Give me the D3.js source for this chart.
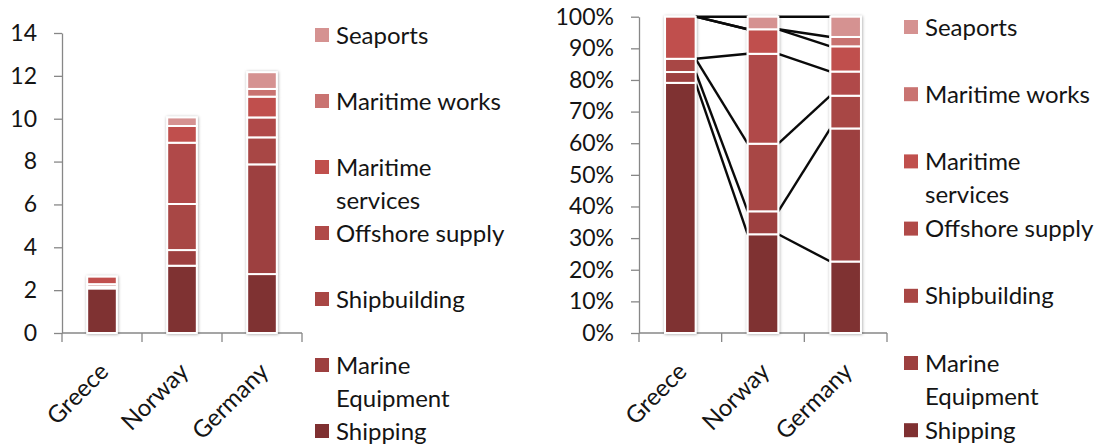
<!DOCTYPE html>
<html>
<head>
<meta charset="utf-8">
<script src="https://cdn.jsdelivr.net/npm/d3@7"></script>
<style>
  body { margin: 0; background: #fff; }
  svg text { font-family: Lato, "Open Sans", sans-serif; fill: #141414; }
</style>
</head>
<body>
<svg id="chart" width="1098" height="446"></svg>
<script>
// Maritime cluster size by sector (absolute values) for three countries
const countries = ["Greece", "Norway", "Germany"];
const sectors = ["Shipping", "Marine Equipment", "Shipbuilding", "Offshore supply",
                 "Maritime services", "Maritime works", "Seaports"];
const shipping         = [2.08, 3.14, 2.75];
const marineEquipment  = [0.09, 0.73, 5.12];
const shipbuilding     = [0.11, 2.15, 1.26];
const offshoreSupply   = [0.00, 2.86, 0.93];
const maritimeServices = [0.35, 0.78, 0.97];
const maritimeWorks    = [0.00, 0.00, 0.36];
const seaports         = [0.00, 0.40, 0.78];
const sectorColors = ["#7f3031", "#9d403f", "#a84644", "#b04a48", "#c0504d", "#c97371", "#d59291"];
const absTicks = [0, 2, 4, 6, 8, 10, 12, 14];
const pctTicks = [0, 0.1, 0.2, 0.3, 0.4, 0.5, 0.6, 0.7, 0.8, 0.9, 1.0];

const seriesValues = [shipping, marineEquipment, shipbuilding, offshoreSupply,
                      maritimeServices, maritimeWorks, seaports];
const rows = countries.map((c, i) => {
  const r = { country: c };
  sectors.forEach((s, k) => { r[s] = seriesValues[k][i]; });
  return r;
});
const color = d3.scaleOrdinal().domain(sectors).range(sectorColors);
const stackAbs = d3.stack().keys(sectors)(rows);
const stackPct = d3.stack().keys(sectors).offset(d3.stackOffsetExpand)(rows);

const svg = d3.select("#chart");
svg.append("rect").attr("width", 1098).attr("height", 446).attr("fill", "#fff");

svg.append("defs").append("filter")
  .attr("id", "barShadow")
  .attr("x", "-40%").attr("y", "-10%").attr("width", "180%").attr("height", "120%")
  .html('<feDropShadow dx="0.5" dy="0.5" stdDeviation="1.8" flood-color="#000" flood-opacity="0.35"/>');

const axisColor = "#878787";

function drawPanel(o) {
  const g = svg.append("g");
  const x = d3.scaleBand().domain(countries).range([o.x0, o.x1])
    .paddingInner(0.63).paddingOuter(0.315);
  const y = d3.scaleLinear().domain(o.domain).range([o.yBottom, o.yTop]);
  const bw = x.bandwidth();

  // value axis
  const yAxis = g.append("g")
    .attr("transform", `translate(${o.x0},0)`)
    .call(d3.axisLeft(y).tickValues(o.ticks).tickFormat(o.format)
      .tickSize(8).tickSizeOuter(0).tickPadding(17));
  yAxis.select(".domain").attr("stroke", axisColor).attr("stroke-width", 1.3);
  yAxis.selectAll(".tick line").attr("stroke", axisColor).attr("stroke-width", 1.3);
  yAxis.selectAll(".tick text").attr("font-size", 23).attr("fill", "#141414");

  // category axis with ticks at band boundaries
  const bounds = d3.range(countries.length + 1).map(i => o.x0 + i * x.step());
  g.append("line").attr("x1", o.x0).attr("x2", bounds[bounds.length - 1])
    .attr("y1", o.yBottom).attr("y2", o.yBottom)
    .attr("stroke", axisColor).attr("stroke-width", 1.3);
  g.selectAll(".xtick").data(bounds).join("line")
    .attr("x1", d => d).attr("x2", d => d)
    .attr("y1", o.yBottom).attr("y2", o.yBottom + 9)
    .attr("stroke", axisColor).attr("stroke-width", 1.3);

  g.selectAll(".xlabel").data(countries).join("text")
    .attr("transform", d => `translate(${x(d) + bw / 2 + 8},${o.yBottom + 40}) rotate(-45)`)
    .attr("text-anchor", "end")
    .attr("font-size", 24)
    .text(d => d);

  // series lines linking segment tops between neighbouring columns
  if (o.seriesLines) {
    const links = [];
    o.stack.forEach(layer => {
      for (let i = 0; i < countries.length - 1; i++) {
        links.push({
          x1: x(countries[i]) + bw, y1: y(layer[i][1]),
          x2: x(countries[i + 1]), y2: y(layer[i + 1][1])
        });
      }
    });
    g.selectAll(".slink").data(links).join("line")
      .attr("x1", d => d.x1).attr("y1", d => d.y1)
      .attr("x2", d => d.x2).attr("y2", d => d.y2)
      .attr("stroke", "#0a0a0a").attr("stroke-width", 2.4);
  }

  // stacked columns, one shadowed group per country
  const cols = g.selectAll(".col").data(countries).join("g")
    .attr("filter", "url(#barShadow)");
  cols.selectAll("rect")
    .data((c, i) => o.stack.map(layer => ({ key: layer.key, y0: layer[i][0], y1: layer[i][1], c }))
      .filter(d => d.y1 - d.y0 > 0))
    .join("rect")
    .attr("x", d => x(d.c))
    .attr("width", bw)
    .attr("y", d => y(d.y1))
    .attr("height", d => y(d.y0) - y(d.y1))
    .attr("fill", d => color(d.key))
    .attr("stroke", "#fff")
    .attr("stroke-width", 2);

  // legend, top entry = last series
  const legendItems = sectors.slice().reverse();
  const lg = g.append("g");
  const items = lg.selectAll(".li").data(legendItems).join("g")
    .attr("transform", (d, i) => `translate(${o.legendX},${o.legendY0 + i * o.legendStep})`);
  items.append("rect")
    .attr("x", 0).attr("y", -7).attr("width", 14).attr("height", 14)
    .attr("fill", d => color(d));
  items.each(function (d) {
    const t = d3.select(this).append("text")
      .attr("x", 21).attr("y", 0).attr("dy", "0.36em").attr("font-size", 24);
    const words = d.split(" ");
    let line = [];
    let tspan = t.append("tspan").attr("x", 21);
    words.forEach(w => {
      line.push(w);
      tspan.text(line.join(" "));
      if (tspan.node().getComputedTextLength() > 172 && line.length > 1) {
        line.pop();
        tspan.text(line.join(" "));
        line = [w];
        tspan = t.append("tspan").attr("x", 21).attr("dy", 33).text(w);
      }
    });
  });
}

drawPanel({
  x0: 62, x1: 302, yTop: 33, yBottom: 333,
  domain: [0, 14], ticks: absTicks, format: d3.format("d"),
  stack: stackAbs, seriesLines: false,
  legendX: 315, legendY0: 35, legendStep: 66
});

drawPanel({
  x0: 639, x1: 887, yTop: 16.7, yBottom: 333,
  domain: [0, 1], ticks: pctTicks, format: d3.format(".0%"),
  stack: stackPct, seriesLines: true,
  legendX: 904, legendY0: 27, legendStep: 67.2
});
</script>
</body>
</html>
